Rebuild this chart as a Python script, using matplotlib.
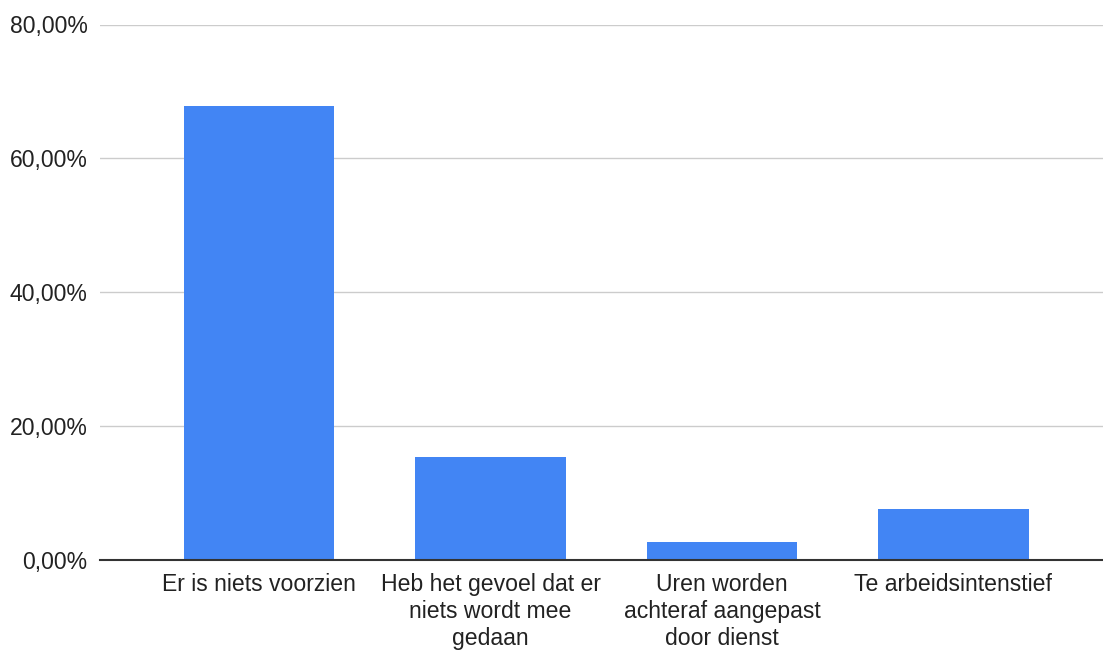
import matplotlib.pyplot as plt
from matplotlib.ticker import FuncFormatter

plt.rcParams['font.family'] = ['Liberation Sans', 'DejaVu Sans']

# data
categories = ["Er is niets voorzien",
              "Heb het gevoel dat er\nniets wordt mee\ngedaan",
              "Uren worden\nachteraf aangepast\ndoor dienst",
              "Te arbeidsintenstief"]
values = [67.8, 15.3, 2.6, 7.6]
y_ticks = [0, 20, 40, 60, 80]

fig = plt.figure(figsize=(11.03, 6.51), dpi=100)
ax = fig.add_axes([100 / 1103, 1 - 559.5 / 651, 1 - 100 / 1103, (559.5 - 24.5) / 651])

x = list(range(len(categories)))
ax.bar(x, values, width=0.65, color='#4285F4', zorder=3)

ax.set_ylim(0, 80)
ax.set_xlim(-0.687, 3.646)
ax.set_yticks(y_ticks)
ax.yaxis.set_major_formatter(FuncFormatter(lambda v, p: f"{v:.2f}%".replace('.', ',')))
ax.set_xticks(x)
ax.set_xticklabels(categories, fontsize=16.6, color='#222222', linespacing=1.22)
ax.tick_params(axis='y', length=0, pad=9, labelsize=16.6, labelcolor='#222222')
ax.tick_params(axis='x', length=0, pad=10)

ax.grid(axis='y', color='#cccccc', linewidth=1, zorder=0)
for s in ['top', 'right', 'left']:
    ax.spines[s].set_visible(False)
ax.spines['bottom'].set_color('#333333')
ax.spines['bottom'].set_linewidth(1.5)
ax.spines['bottom'].set_zorder(4)

fig.savefig('out.png', dpi=100)
